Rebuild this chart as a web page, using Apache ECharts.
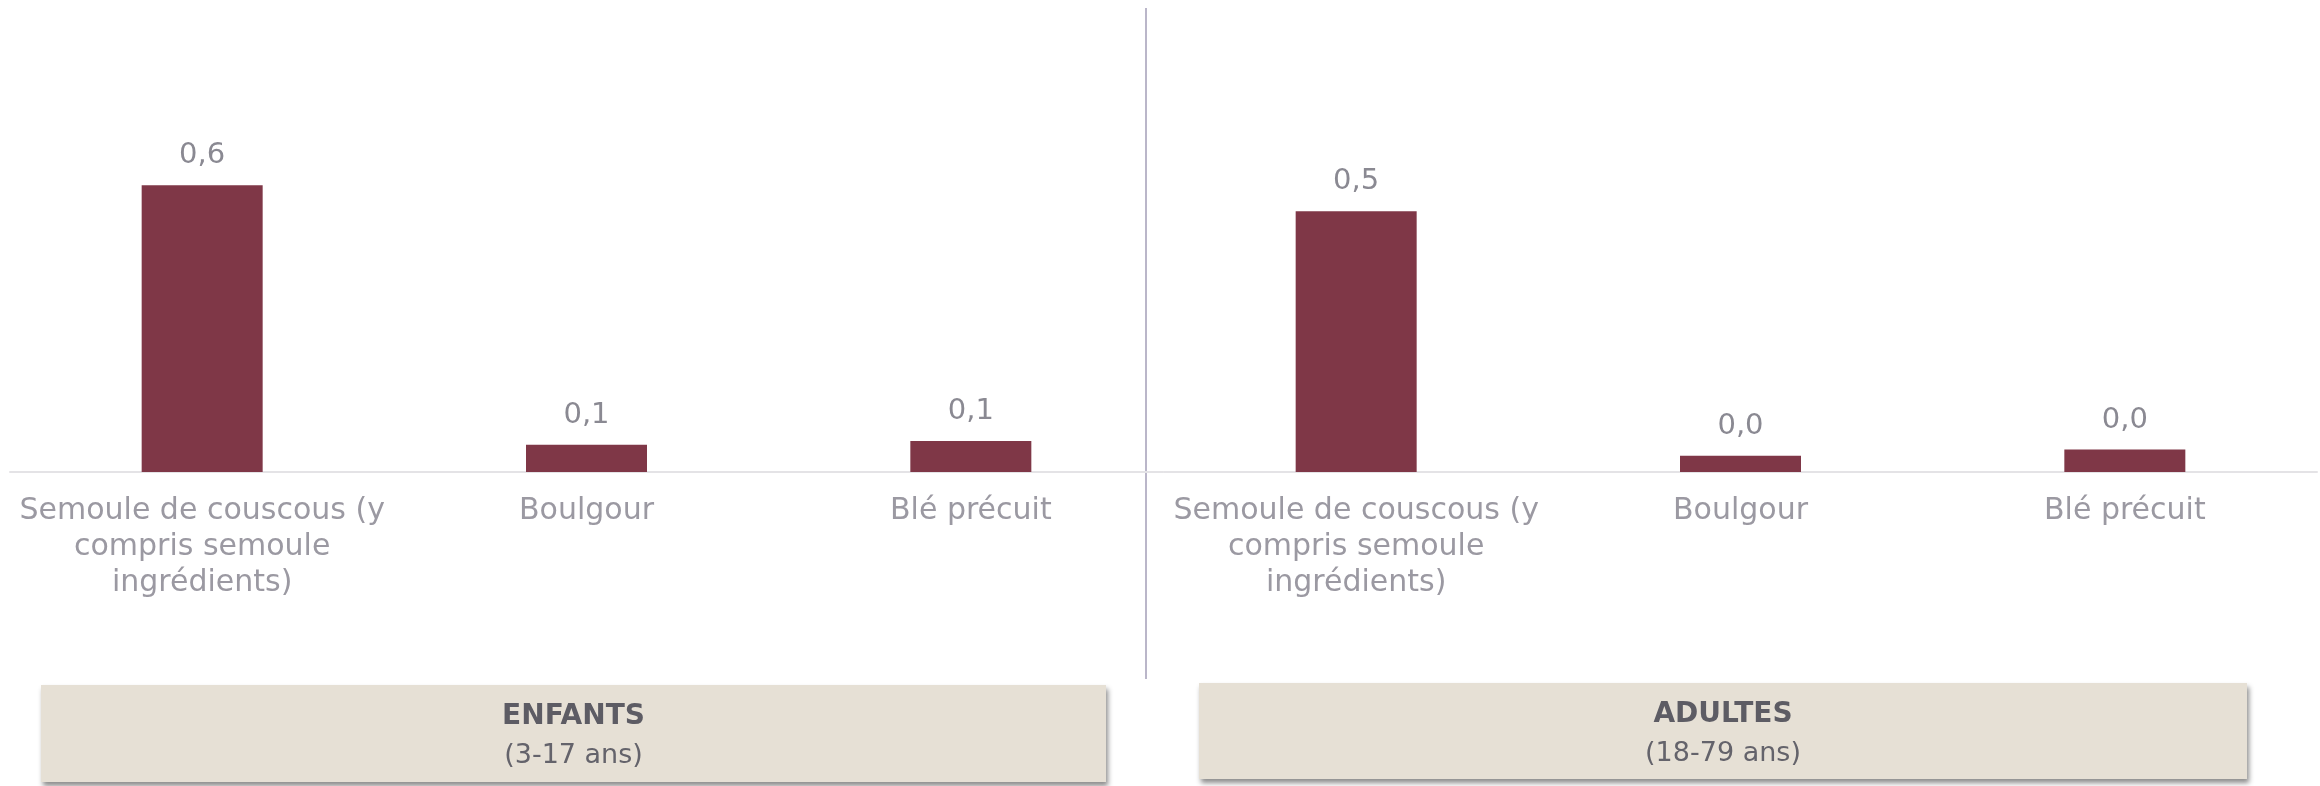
<!DOCTYPE html>
<html lang="fr">
<head>
<meta charset="utf-8">
<title>Consommation de semoule, boulgour et blé</title>
<script src="https://cdn.jsdelivr.net/npm/echarts@6/dist/echarts.min.js"></script>
<style>
  html, body { margin: 0; padding: 0; background: #ffffff; }
  #chart { width: 2320px; height: 786px; }
</style>
</head>
<body>
<div id="chart"></div>
<script>
// Produits (libellés de l'axe des catégories, retours à la ligne compris)
const categories = [
  'Semoule de couscous (y\ncompris semoule\ningrédients)',
  'Boulgour',
  'Blé précuit'
];

// Valeurs par groupe d'âge
const enfantsValues = [0.600, 0.057, 0.065];
const adultesValues = [0.546, 0.034, 0.047];

// Bandeaux sous chaque groupe
const groupTitles = ['ENFANTS', 'ADULTES'];
const groupSubtitles = ['(3-17 ans)', '(18-79 ans)'];

const FONT = '"DejaVu Sans", "Open Sans", sans-serif';
const BAR_COLOR = '#7f3747';
const LABEL_COLOR = '#8a8992';
const CAT_COLOR = '#9b99a2';

const fmt = v => v.toFixed(1).replace('.', ',');

function xAxisFor(gridIndex) {
  return {
    type: 'category',
    gridIndex,
    data: categories,
    axisLine: { show: true, lineStyle: { color: '#e4e3e6', width: 2 } },
    axisTick: { show: false },
    axisLabel: {
      interval: 0,
      margin: 21,
      color: CAT_COLOR,
      fontFamily: FONT,
      fontSize: 30,
      lineHeight: 36,
      align: 'center'
    }
  };
}

function yAxisFor(gridIndex) {
  return {
    type: 'value',
    gridIndex,
    min: 0,
    max: 0.9,
    show: false,
    splitLine: { show: false }
  };
}

function seriesFor(idx, values) {
  return {
    type: 'bar',
    xAxisIndex: idx,
    yAxisIndex: idx,
    data: values,
    barWidth: 121,
    itemStyle: { color: BAR_COLOR },
    label: {
      show: true,
      position: 'top',
      distance: 15,
      color: LABEL_COLOR,
      fontFamily: FONT,
      fontSize: 29,
      formatter: p => fmt(p.value)
    },
    emphasis: { disabled: true }
  };
}

function banner(x, y, w, h, title, subtitle) {
  return {
    type: 'group',
    children: [
      {
        type: 'rect',
        shape: { x, y, width: w, height: h },
        style: {
          fill: '#e6e0d5',
          shadowBlur: 5,
          shadowOffsetX: 2,
          shadowOffsetY: 4,
          shadowColor: 'rgba(0,0,0,0.45)'
        }
      },
      {
        type: 'text',
        style: {
          x: x + w / 2,
          y: y + 32,
          text: title,
          textAlign: 'center',
          textVerticalAlign: 'middle',
          fill: '#5d5c64',
          fontFamily: FONT,
          fontWeight: 'bold',
          fontSize: 28
        }
      },
      {
        type: 'text',
        style: {
          x: x + w / 2,
          y: y + 71,
          text: subtitle,
          textAlign: 'center',
          textVerticalAlign: 'middle',
          fill: '#64636b',
          fontFamily: FONT,
          fontSize: 27
        }
      }
    ]
  };
}

const chart = echarts.init(document.getElementById('chart'), null, { renderer: 'canvas' });

chart.setOption({
  animation: false,
  backgroundColor: '#ffffff',
  grid: [
    { left: 10, top: 42, width: 1153, bottom: 314, containLabel: false },
    { left: 1164, top: 42, right: 3, bottom: 314, containLabel: false }
  ],
  xAxis: [xAxisFor(0), xAxisFor(1)],
  yAxis: [yAxisFor(0), yAxisFor(1)],
  series: [seriesFor(0, enfantsValues), seriesFor(1, adultesValues)],
  graphic: [
    // séparateur vertical entre les deux groupes
    {
      type: 'line',
      shape: { x1: 1146, y1: 8, x2: 1146, y2: 679 },
      style: { stroke: '#bab6c9', lineWidth: 2 }
    },
    banner(41, 685, 1065, 97, groupTitles[0], groupSubtitles[0]),
    banner(1199, 683, 1048, 96, groupTitles[1], groupSubtitles[1])
  ]
});
</script>
</body>
</html>
